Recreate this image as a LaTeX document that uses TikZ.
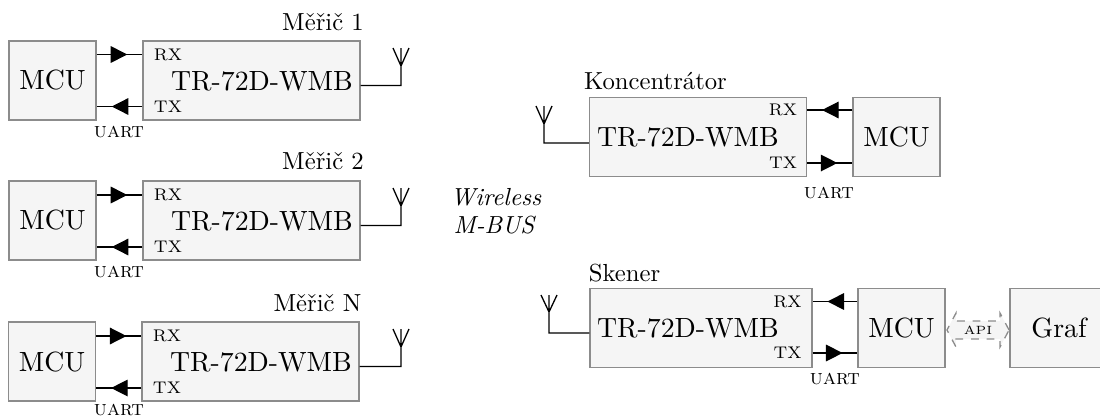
\documentclass[tikz,border=0pt]{standalone}
\usetikzlibrary{shapes.arrows, arrows.meta, decorations.markings}
\tikzset{
    blockbox/.style={draw=black!45, fill=black!4, line width=0.5pt, inner sep=0pt, font=\fontsize{10.7}{12}\selectfont},
    mcubox/.style={blockbox, minimum width=33.5pt, minimum height=30.4pt},
    trbox/.style={blockbox, minimum width=83.5pt, minimum height=30.4pt},
    trtext/.style={inner sep=0pt, font=\fontsize{10.7}{12}\selectfont},
    namelabel/.style={inner sep=0pt, font=\fontsize{9.5}{11}\selectfont},
    pinlabel/.style={font=\fontsize{6.5}{8}\selectfont, inner sep=0pt},
    uartlabel/.style={font=\fontsize{8.2}{10}\selectfont\scshape, inner sep=0pt},
    uartline/.style={line width=0.5pt, decoration={markings, mark=at position 0.67 with {\arrow{Triangle[length=6.4pt,width=6.4pt]}}}, postaction={decorate}},
    antline/.style={line width=0.5pt, line join=miter}
}
\begin{document}
\begin{tikzpicture}[x=0.385pt,y=0.385pt]
    \useasboundingbox (0,0) rectangle (1100,418);
    % meric 1
    \node[mcubox] (mcua) at (52.5,337.5) {MCU};
    \node[trbox] (tra) at (251.5,337.5) {};
    \node[trtext] (tra text) at (262,337) {TR-72D-WMB};
    \node[pinlabel] (rxa) at (168,363.5) {RX};
    \node[pinlabel] (txa) at (168,311.5) {TX};
    \node[namelabel] (namea) at (323,396) {Měřič 1};
    \node[uartlabel] (uarta) at (119,286) {uart};
    \coordinate (anta) at (401,332.5);
    \coordinate (forka) at (401,352);
    \draw[uartline] (mcua.east |- rxa) -- (tra.west |- rxa);
    \draw[uartline] (tra.west |- txa) -- (mcua.east |- txa);
    \draw[antline] (tra.east |- anta) -- (anta) -- (forka) -- ++(-8,18) (forka) -- ++(0,18) (forka) -- ++(8,18);
    % meric 2
    \node[mcubox] (mcub) at (52.5,197.5) {MCU};
    \node[trbox] (trb) at (251.5,197.5) {};
    \node[trtext] (trb text) at (262,197) {TR-72D-WMB};
    \node[pinlabel] (rxb) at (168,223) {RX};
    \node[pinlabel] (txb) at (168,171) {TX};
    \node[namelabel] (nameb) at (323,257) {Měřič 2};
    \node[uartlabel] (uartb) at (119,146) {uart};
    \coordinate (antb) at (401,192.5);
    \coordinate (forkb) at (401,212);
    \draw[uartline] (mcub.east |- rxb) -- (trb.west |- rxb);
    \draw[uartline] (trb.west |- txb) -- (mcub.east |- txb);
    \draw[antline] (trb.east |- antb) -- (antb) -- (forkb) -- ++(-8,18) (forkb) -- ++(0,18) (forkb) -- ++(8,18);
    % meric N
    \node[mcubox] (mcuc) at (52,56.5) {MCU};
    \node[trbox] (trc) at (250.5,56.5) {};
    \node[trtext] (trc text) at (261,56) {TR-72D-WMB};
    \node[pinlabel] (rxc) at (167,82) {RX};
    \node[pinlabel] (txc) at (167,30) {TX};
    \node[namelabel] (namec) at (317.5,115) {Měřič N};
    \node[uartlabel] (uartc) at (119,8) {uart};
    \coordinate (antc) at (401,51.5);
    \coordinate (forkc) at (401,71);
    \draw[uartline] (mcuc.east |- rxc) -- (trc.west |- rxc);
    \draw[uartline] (trc.west |- txc) -- (mcuc.east |- txc);
    \draw[antline] (trc.east |- antc) -- (antc) -- (forkc) -- ++(-8,18) (forkc) -- ++(0,18) (forkc) -- ++(8,18);
    % wireless
    \node[namelabel] (wireless) at (496,221) {\itshape Wireless};
    \node[namelabel] (mbus) at (494,193) {\itshape M-BUS};
    % koncentrator
    \node[trbox] (trk) at (698,281) {};
    \node[trtext] (trk text) at (688,281) {TR-72D-WMB};
    \node[mcubox] (mcuk) at (896.5,281) {MCU};
    \node[pinlabel] (rxk) at (783,308) {RX};
    \node[pinlabel] (txk) at (783,255) {TX};
    \node[namelabel] (namek) at (655.5,337) {Koncentrátor};
    \node[uartlabel] (uartk) at (829,225) {uart};
    \coordinate (antk) at (544,275);
    \coordinate (forkk) at (544,294);
    \draw[uartline] (mcuk.west |- rxk) -- (trk.east |- rxk);
    \draw[uartline] (trk.east |- txk) -- (mcuk.west |- txk);
    \draw[antline] (trk.west |- antk) -- (antk) -- (forkk) -- ++(-8,18) (forkk) -- ++(0,18) (forkk) -- ++(8,18);
    % skener
    \node[trbox, minimum width=85.5pt] (trs) at (701,90) {};
    \node[trtext] (trs text) at (688,90) {TR-72D-WMB};
    \node[mcubox] (mcus) at (901.5,90) {MCU};
    \node[mcubox, minimum width=37.7pt] (graf) at (1059,90) {Graf};
    \node[pinlabel] (rxs) at (787.5,116.5) {RX};
    \node[pinlabel] (txs) at (787.5,65) {TX};
    \node[namelabel] (names) at (624.5,145) {Skener};
    \node[uartlabel] (uarts) at (835,39) {uart};
    \node[double arrow, draw=black!45, fill=black!4, dashed, line width=0.5pt, minimum width=13pt, minimum height=23.9pt, double arrow head extend=2.9pt, double arrow tip angle=124, inner sep=1.4pt, font=\fontsize{4.6}{6}\selectfont] (api) at (978,88) {API};
    \coordinate (ants) at (549,85);
    \coordinate (forks) at (549,106);
    \draw[uartline] (mcus.west |- rxs) -- (trs.east |- rxs);
    \draw[uartline] (trs.east |- txs) -- (mcus.west |- txs);
    \draw[antline] (trs.west |- ants) -- (ants) -- (forks) -- ++(-8,17) (forks) -- ++(0,17) (forks) -- ++(8,17);
\end{tikzpicture}
\end{document}
